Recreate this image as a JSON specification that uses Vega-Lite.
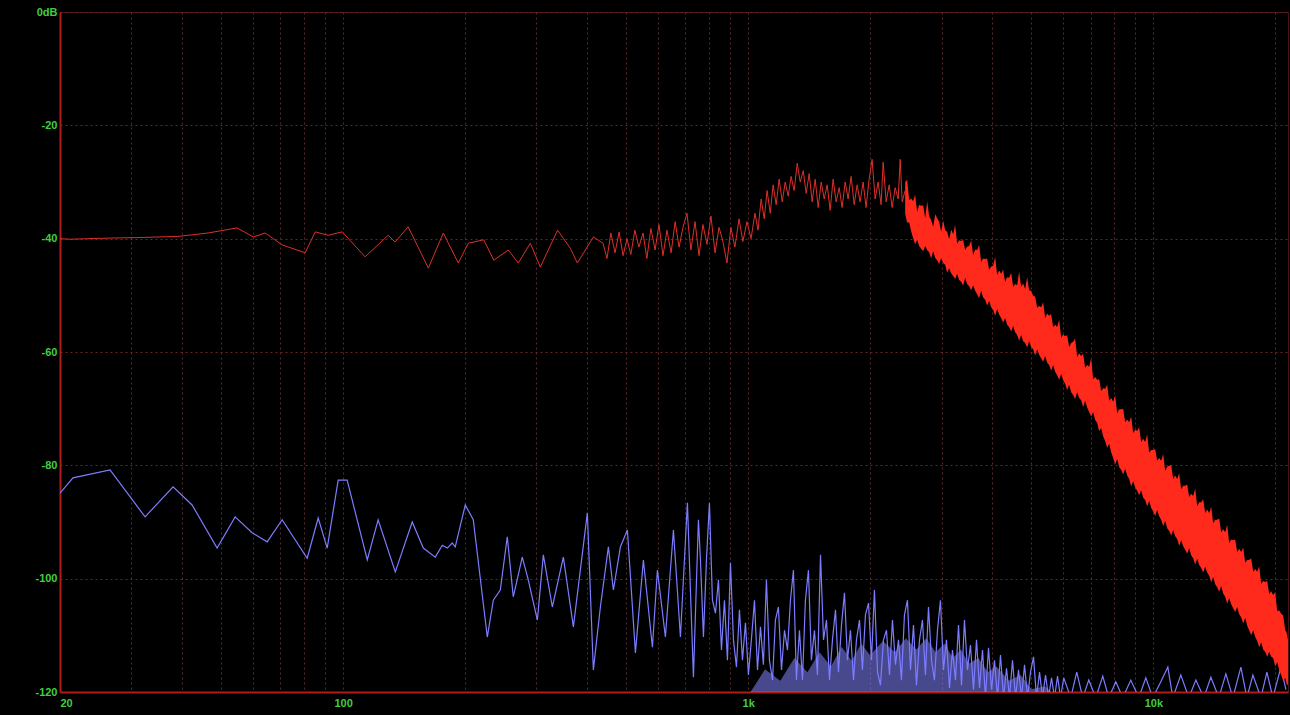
{
  "$schema": "https://vega.github.io/schema/vega-lite/v6.json",
  "width": 1228,
  "height": 680,
  "autosize": {"type": "none"},
  "padding": {"left": 60, "top": 12, "right": 2, "bottom": 23},
  "background": "#000000",
  "config": {
    "view": {"stroke": "#4a1414", "fill": "#000000"}
  },
  "datasets": {
    "blue": [
      {"f":20,"db":-84.9},{"f":21.53,"db":-82.2},{"f":26.58,"db":-80.8},{"f":32.44,"db":-89.1},{"f":38.03,"db":-83.8},{"f":42.38,"db":-87.0},{"f":48.85,"db":-94.6},{"f":54.12,"db":-89.1},{"f":59.61,"db":-91.9},{"f":64.92,"db":-93.5},{"f":70.7,"db":-89.6},{"f":81.51,"db":-96.4},{"f":86.77,"db":-89.3},{"f":91.33,"db":-94.6},{"f":97.22,"db":-82.6},{"f":102.3,"db":-82.6},{"f":114.7,"db":-96.7},{"f":122.0,"db":-89.6},{"f":134.5,"db":-98.8},{"f":148.1,"db":-90.0},{"f":157.7,"db":-94.6},{"f":168.8,"db":-96.2},{"f":175.7,"db":-94.1},{"f":180.8,"db":-94.6},{"f":185.9,"db":-93.7},{"f":189.1,"db":-94.4},{"f":200.2,"db":-87.0},{"f":209.5,"db":-89.6},{"f":226.9,"db":-110.3},{"f":234.8,"db":-103.8},{"f":244.3,"db":-102.0},{"f":254.2,"db":-92.6},{"f":263.0,"db":-103.2},{"f":276.8,"db":-96.2},{"f":286.4,"db":-100.2},{"f":301.6,"db":-107.3},{"f":312.0,"db":-95.8},{"f":328.4,"db":-105.0},{"f":349.6,"db":-96.2},{"f":370.1,"db":-108.5},{"f":400.7,"db":-88.4},{"f":414.6,"db":-116.1},{"f":431.5,"db":-105.0},{"f":451.6,"db":-94.4},{"f":464.6,"db":-102.0},{"f":483.5,"db":-94.4},{"f":503.1,"db":-91.4},{"f":526.6,"db":-113.1},{"f":551.0,"db":-96.7},{"f":580.0,"db":-112.1},{"f":596.7,"db":-98.5},{"f":624.5,"db":-110.3},{"f":653.6,"db":-91.4},{"f":680.1,"db":-110.3},{"f":707.7,"db":-86.6},{"f":732.3,"db":-117.4},{"f":753.4,"db":-89.6},
      {"f":762.1,"db":-96.7},{"f":775.2,"db":-110.3},{"f":788.5,"db":-96.7},{"f":802.1,"db":-86.6},{"f":815.9,"db":-103.8},{"f":830.0,"db":-106.1},{"f":844.2,"db":-100.2},{"f":858.8,"db":-112.6},{"f":873.5,"db":-103.8},{"f":888.5,"db":-114.4},{"f":903.9,"db":-97.2},{"f":919.4,"db":-110.8},{"f":935.2,"db":-115.6},{"f":951.3,"db":-105.5},{"f":967.7,"db":-114.4},{"f":984.4,"db":-107.8},{"f":1001,"db":-117.0},{"f":1018,"db":-110.8},{"f":1036,"db":-103.8},{"f":1054,"db":-116.1},{"f":1072,"db":-108.5},{"f":1090,"db":-115.2},{"f":1109,"db":-100.2},{"f":1128,"db":-114.4},{"f":1148,"db":-117.9},{"f":1167,"db":-107.3},{"f":1187,"db":-105.0},{"f":1208,"db":-116.1},{"f":1229,"db":-109.1},{"f":1250,"db":-112.6},{"f":1271,"db":-103.8},{"f":1293,"db":-98.5},{"f":1315,"db":-117.9},{"f":1338,"db":-109.1},{"f":1361,"db":-117.9},{"f":1384,"db":-103.8},{"f":1408,"db":-98.5},{"f":1432,"db":-114.4},{"f":1457,"db":-109.1},{"f":1482,"db":-117.0},{"f":1508,"db":-95.8},{"f":1534,"db":-110.8},{"f":1560,"db":-107.3},{"f":1587,"db":-117.9},{"f":1614,"db":-110.8},{"f":1642,"db":-105.5},{"f":1670,"db":-116.5},{"f":1699,"db":-108.2},{"f":1728,"db":-102.5},{"f":1758,"db":-114.4},{"f":1788,"db":-109.1},{"f":1819,"db":-117.9},{"f":1850,"db":-110.8},{"f":1882,"db":-107.3},{"f":1914,"db":-116.1},{"f":1947,"db":-106.4},{"f":1981,"db":-104.3},{"f":2015,"db":-114.4},{"f":2049,"db":-102.0},{"f":2085,"db":-116.5},{"f":2120,"db":-118.8},{"f":2157,"db":-110.8},{"f":2194,"db":-109.1},{"f":2232,"db":-117.0},{"f":2270,"db":-107.3},{"f":2309,"db":-115.2},{"f":2349,"db":-110.8},{"f":2389,"db":-117.9},{"f":2430,"db":-106.4},{"f":2472,"db":-103.8},{"f":2515,"db":-116.1},{"f":2558,"db":-108.2},{"f":2602,"db":-118.8},{"f":2647,"db":-110.8},{"f":2692,"db":-107.3},{"f":2738,"db":-117.0},{"f":2786,"db":-105.0},{"f":2834,"db":-114.4},{"f":2882,"db":-117.9},{"f":2932,"db":-109.1},{"f":2982,"db":-103.8},{"f":3034,"db":-116.1},{"f":3086,"db":-110.8},{"f":3139,"db":-119.3},{"f":3193,"db":-112.6},{"f":3248,"db":-117.9},{"f":3304,"db":-108.2},{"f":3361,"db":-118.8},{"f":3418,"db":-107.3},{"f":3477,"db":-116.1},{"f":3537,"db":-111.7},{"f":3598,"db":-119.6},{"f":3660,"db":-110.8},{"f":3723,"db":-119.3},{"f":3787,"db":-112.6},{"f":3852,"db":-121},{"f":3918,"db":-112.2},{"f":3986,"db":-119.6},{"f":4054,"db":-114.4},{"f":4124,"db":-121},{"f":4195,"db":-113.5},{"f":4267,"db":-121},{"f":4341,"db":-115.8},{"f":4415,"db":-121},{"f":4491,"db":-114.4},{"f":4569,"db":-121},{"f":4647,"db":-116.1},{"f":4727,"db":-121},{"f":4809,"db":-115.2},{"f":4891,"db":-121},{"f":4976,"db":-116.5},{"f":5061,"db":-113.8},{"f":5148,"db":-121},{"f":5237,"db":-116.5},{"f":5327,"db":-121},{"f":5419,"db":-117.0},{"f":5512,"db":-121},{"f":5607,"db":-117.5},{"f":5703,"db":-121},{"f":5801,"db":-117.2},{"f":5901,"db":-121},
      {"f":6010,"db":-117.5},{"f":6254,"db":-121},{"f":6471,"db":-116.5},{"f":6695,"db":-121},{"f":6928,"db":-117.9},{"f":7209,"db":-121},{"f":7502,"db":-117.2},{"f":7762,"db":-121},{"f":8079,"db":-118.2},{"f":8406,"db":-121},{"f":8798,"db":-117.9},{"f":9207,"db":-121},{"f":9582,"db":-117.5},{"f":9970,"db":-121},{"f":10435,"db":-118.2},{"f":10859,"db":-115.6},{"f":11172,"db":-121},{"f":11692,"db":-117.0},{"f":12236,"db":-121},{"f":12735,"db":-117.9},{"f":13326,"db":-121},{"f":13868,"db":-117.4},{"f":14513,"db":-121},{"f":15104,"db":-116.8},{"f":15716,"db":-121},{"f":16449,"db":-115.6},{"f":17020,"db":-121},{"f":17610,"db":-117.0},{"f":18430,"db":-121},{"f":19070,"db":-116.5},{"f":19731,"db":-121},{"f":20651,"db":-115.6},{"f":21248,"db":-119.6}
    ],
    "bfill": [
      {"f":1013,"db":-121,"db2":-120},{"f":1100,"db":-121,"db2":-116},{"f":1200,"db":-121,"db2":-118},{"f":1300,"db":-121,"db2":-114},{"f":1400,"db":-121,"db2":-116.5},{"f":1500,"db":-121,"db2":-113},{"f":1600,"db":-121,"db2":-115.5},{"f":1700,"db":-121,"db2":-112},{"f":1800,"db":-121,"db2":-114.5},{"f":1900,"db":-121,"db2":-111.5},{"f":2000,"db":-121,"db2":-113.5},{"f":2150,"db":-121,"db2":-111},{"f":2300,"db":-121,"db2":-113},{"f":2450,"db":-121,"db2":-110.5},{"f":2600,"db":-121,"db2":-112.5},{"f":2750,"db":-121,"db2":-110.5},{"f":2900,"db":-121,"db2":-113},{"f":3050,"db":-121,"db2":-111.5},{"f":3200,"db":-121,"db2":-114},{"f":3350,"db":-121,"db2":-112.5},{"f":3500,"db":-121,"db2":-115},{"f":3700,"db":-121,"db2":-114},{"f":3900,"db":-121,"db2":-116.5},{"f":4100,"db":-121,"db2":-115.5},{"f":4400,"db":-121,"db2":-118},{"f":4700,"db":-121,"db2":-117},{"f":5000,"db":-121,"db2":-119.5},{"f":5400,"db":-121,"db2":-119},{"f":5800,"db":-121,"db2":-121}
    ],
    "red": [
      {"f":20,"db":-40.0},{"f":21.2,"db":-40.1},{"f":23.4,"db":-40.0},{"f":26.6,"db":-39.9},{"f":31.5,"db":-39.8},{"f":39.1,"db":-39.6},{"f":46.4,"db":-39.0},{"f":54.7,"db":-38.1},{"f":60.0,"db":-39.7},{"f":64.2,"db":-39.0},{"f":70.7,"db":-41.1},{"f":80.6,"db":-42.5},{"f":85.3,"db":-38.8},{"f":91.8,"db":-39.4},{"f":99.5,"db":-38.8},{"f":113.3,"db":-43.2},{"f":129.2,"db":-39.4},{"f":134.4,"db":-40.6},{"f":144.7,"db":-37.9},{"f":162.3,"db":-45.2},{"f":176.7,"db":-39.0},{"f":192.4,"db":-44.3},{"f":203.7,"db":-40.8},{"f":222.3,"db":-40.2},{"f":235.5,"db":-43.8},{"f":255.6,"db":-42.0},{"f":270.6,"db":-44.3},{"f":289.8,"db":-40.8},{"f":306.7,"db":-45.0},{"f":338.3,"db":-38.5},{"f":363.8,"db":-41.7},{"f":378.6,"db":-44.3},{"f":414.6,"db":-39.7},{"f":438,"db":-40.8},{"f":448,"db":-43.5},{"f":458,"db":-39.0},{"f":469,"db":-42.5},{"f":480,"db":-38.8},{"f":491,"db":-43.0},{"f":502,"db":-40.0},{"f":513,"db":-42.8},{"f":525,"db":-38.5},{"f":537,"db":-41.5},{"f":550,"db":-39.0},{"f":562,"db":-43.5},{"f":575,"db":-38.2},{"f":589,"db":-42.0},{"f":602,"db":-37.5},{"f":616,"db":-43.0},{"f":630,"db":-38.5},{"f":645,"db":-42.5},{"f":660,"db":-37.0},{"f":675,"db":-41.5},{"f":690,"db":-38.0},{"f":706,"db":-35.5},{"f":722,"db":-42.0},{"f":739,"db":-37.0},{"f":756,"db":-43.0},{"f":773,"db":-37.5},{"f":791,"db":-41.0},{"f":809,"db":-36.0},{"f":828,"db":-42.5},{"f":847,"db":-38.0},{"f":866,"db":-40.5},{"f":886,"db":-44.3},{"f":906,"db":-38.0},{"f":927,"db":-41.5},{"f":949,"db":-36.5},{"f":970,"db":-40.5},{"f":993,"db":-37.0},{"f":1016,"db":-40.0},{"f":1039,"db":-35.5},{"f":1057,"db":-38.5},{"f":1076,"db":-33.0},{"f":1095,"db":-36.5},{"f":1113,"db":-31.5},{"f":1133,"db":-35.5},{"f":1152,"db":-30.5},{"f":1172,"db":-34.0},{"f":1192,"db":-29.5},{"f":1213,"db":-33.5},{"f":1234,"db":-30.0},{"f":1255,"db":-32.5},{"f":1276,"db":-29.0},{"f":1298,"db":-31.5},{"f":1321,"db":-26.7},{"f":1344,"db":-30.0},{"f":1367,"db":-28.0},{"f":1390,"db":-32.0},{"f":1414,"db":-28.5},{"f":1438,"db":-33.5},{"f":1463,"db":-29.5},{"f":1488,"db":-34.5},{"f":1514,"db":-30.0},{"f":1540,"db":-33.0},{"f":1566,"db":-30.5},{"f":1593,"db":-35.0},{"f":1620,"db":-29.5},{"f":1648,"db":-33.5},{"f":1677,"db":-31.0},{"f":1705,"db":-34.5},{"f":1735,"db":-30.0},{"f":1764,"db":-33.0},{"f":1795,"db":-29.0},{"f":1826,"db":-34.0},{"f":1857,"db":-30.5},{"f":1889,"db":-33.5},{"f":1921,"db":-30.0},{"f":1954,"db":-34.5},{"f":1988,"db":-29.5},{"f":2022,"db":-26.0},{"f":2057,"db":-33.0},{"f":2092,"db":-30.0},{"f":2128,"db":-34.0},{"f":2153,"db":-26.5},{"f":2190,"db":-33.5},{"f":2228,"db":-30.5},{"f":2266,"db":-34.5},{"f":2305,"db":-31.0},{"f":2345,"db":-33.0},{"f":2372,"db":-26.0},{"f":2399,"db":-33.5},{"f":2440,"db":-31.5}
    ],
    "band": [
      {"f":2440,"db":-35.6,"db2":-30.0},{"f":2468,"db":-37.2,"db2":-29.6},{"f":2496,"db":-37.1,"db2":-33.2},{"f":2524,"db":-38.7,"db2":-32.9},{"f":2553,"db":-39.9,"db2":-33.4},{"f":2582,"db":-41.0,"db2":-32.2},{"f":2612,"db":-40.2,"db2":-35.3},{"f":2642,"db":-41.3,"db2":-34.0},{"f":2672,"db":-41.8,"db2":-34.2},{"f":2703,"db":-42.2,"db2":-34.1},{"f":2734,"db":-41.3,"db2":-36.4},{"f":2765,"db":-42.0,"db2":-33.4},{"f":2796,"db":-42.4,"db2":-36.0},{"f":2828,"db":-43.5,"db2":-36.7},{"f":2861,"db":-42.2,"db2":-37.9},{"f":2894,"db":-43.4,"db2":-35.7},{"f":2927,"db":-43.8,"db2":-36.4},{"f":2960,"db":-44.5,"db2":-37.0},{"f":2994,"db":-43.4,"db2":-38.8},{"f":3028,"db":-44.3,"db2":-36.8},{"f":3063,"db":-44.6,"db2":-38.5},{"f":3098,"db":-46.0,"db2":-38.8},{"f":3133,"db":-45.2,"db2":-40.1},{"f":3169,"db":-46.1,"db2":-38.4},{"f":3205,"db":-46.6,"db2":-39.2},{"f":3242,"db":-47.1,"db2":-37.6},{"f":3279,"db":-46.2,"db2":-40.9},{"f":3316,"db":-47.3,"db2":-40.3},{"f":3354,"db":-47.6,"db2":-40.4},{"f":3392,"db":-48.3,"db2":-40.2},{"f":3431,"db":-46.9,"db2":-42.0},{"f":3470,"db":-48.0,"db2":-41.4},{"f":3510,"db":-48.4,"db2":-41.3},{"f":3550,"db":-49.1,"db2":-40.3},{"f":3591,"db":-48.2,"db2":-42.9},{"f":3632,"db":-49.2,"db2":-41.9},{"f":3673,"db":-49.8,"db2":-42.0},{"f":3715,"db":-50.5,"db2":-41.1},{"f":3758,"db":-49.2,"db2":-44.1},{"f":3801,"db":-50.4,"db2":-43.5},{"f":3844,"db":-50.8,"db2":-43.6},{"f":3888,"db":-51.8,"db2":-43.5},{"f":3933,"db":-51.0,"db2":-45.5},{"f":3978,"db":-52.1,"db2":-44.9},{"f":4023,"db":-52.6,"db2":-44.8},{"f":4069,"db":-53.6,"db2":-43.2},{"f":4116,"db":-52.4,"db2":-46.4},{"f":4163,"db":-53.4,"db2":-45.6},{"f":4210,"db":-54.0,"db2":-46.2},{"f":4258,"db":-54.8,"db2":-45.5},{"f":4307,"db":-54.0,"db2":-47.6},{"f":4356,"db":-55.2,"db2":-46.8},{"f":4406,"db":-55.6,"db2":-46.9},{"f":4457,"db":-56.4,"db2":-46.0},{"f":4508,"db":-55.4,"db2":-48.5},{"f":4559,"db":-56.5,"db2":-48.0},{"f":4611,"db":-57.0,"db2":-48.2},{"f":4664,"db":-58.0,"db2":-45.8},{"f":4717,"db":-57.0,"db2":-48.5},{"f":4771,"db":-58.1,"db2":-47.9},{"f":4826,"db":-58.4,"db2":-48.9},{"f":4881,"db":-59.2,"db2":-46.8},{"f":4937,"db":-58.1,"db2":-49.1},{"f":4993,"db":-59.1,"db2":-49.2},{"f":5050,"db":-59.5,"db2":-50.1},{"f":5108,"db":-60.6,"db2":-50.2},{"f":5166,"db":-59.5,"db2":-52.2},{"f":5225,"db":-60.5,"db2":-51.9},{"f":5285,"db":-61.1,"db2":-52.1},{"f":5346,"db":-61.7,"db2":-51.2},{"f":5407,"db":-60.7,"db2":-54.0},{"f":5469,"db":-61.9,"db2":-53.2},{"f":5531,"db":-62.3,"db2":-53.6},{"f":5594,"db":-63.3,"db2":-53.3},{"f":5658,"db":-62.3,"db2":-55.6},{"f":5723,"db":-63.5,"db2":-55.2},{"f":5788,"db":-64.1,"db2":-55.6},{"f":5855,"db":-64.9,"db2":-54.3},{"f":5922,"db":-63.9,"db2":-57.5},{"f":5990,"db":-65.0,"db2":-56.9},{"f":6058,"db":-65.6,"db2":-57.2},{"f":6127,"db":-66.7,"db2":-57.0},{"f":6197,"db":-65.8,"db2":-59.1},{"f":6268,"db":-67.1,"db2":-58.4},{"f":6340,"db":-67.6,"db2":-58.2},{"f":6412,"db":-68.3,"db2":-57.6},{"f":6485,"db":-67.1,"db2":-60.9},{"f":6560,"db":-68.1,"db2":-60.2},{"f":6635,"db":-68.5,"db2":-60.7},{"f":6711,"db":-69.7,"db2":-60.3},{"f":6787,"db":-68.6,"db2":-62.8},{"f":6865,"db":-69.8,"db2":-62.3},{"f":6943,"db":-70.6,"db2":-62.6},{"f":7023,"db":-71.4,"db2":-61.1},{"f":7103,"db":-70.6,"db2":-64.8},{"f":7185,"db":-72.0,"db2":-64.4},{"f":7267,"db":-72.5,"db2":-64.9},{"f":7350,"db":-74.0,"db2":-64.8},{"f":7434,"db":-73.4,"db2":-66.9},{"f":7519,"db":-74.9,"db2":-66.4},{"f":7605,"db":-75.7,"db2":-66.5},{"f":7692,"db":-76.9,"db2":-65.8},{"f":7780,"db":-76.2,"db2":-68.6},{"f":7869,"db":-77.7,"db2":-68.1},{"f":7959,"db":-78.7,"db2":-68.8},{"f":8050,"db":-79.8,"db2":-67.6},{"f":8142,"db":-78.9,"db2":-70.8},{"f":8235,"db":-80.3,"db2":-70.1},{"f":8329,"db":-80.8,"db2":-70.1},{"f":8425,"db":-81.6,"db2":-70.0},{"f":8521,"db":-80.6,"db2":-72.4},{"f":8619,"db":-81.8,"db2":-71.9},{"f":8717,"db":-82.4,"db2":-72.4},{"f":8817,"db":-83.7,"db2":-71.4},{"f":8917,"db":-82.8,"db2":-74.3},{"f":9019,"db":-83.9,"db2":-73.7},{"f":9122,"db":-84.5,"db2":-73.9},{"f":9227,"db":-85.3,"db2":-73.3},{"f":9332,"db":-84.4,"db2":-75.9},{"f":9439,"db":-85.7,"db2":-75.3},{"f":9547,"db":-86.1,"db2":-75.9},{"f":9656,"db":-87.2,"db2":-74.5},{"f":9767,"db":-86.3,"db2":-77.8},{"f":9878,"db":-87.5,"db2":-77.3},{"f":9991,"db":-88.1,"db2":-77.3},{"f":10106,"db":-88.9,"db2":-77.1},{"f":10221,"db":-87.9,"db2":-79.2},{"f":10338,"db":-89.0,"db2":-78.7},{"f":10456,"db":-89.6,"db2":-79.2},{"f":10576,"db":-90.7,"db2":-78.0},{"f":10697,"db":-89.8,"db2":-81.0},{"f":10819,"db":-91.1,"db2":-80.2},{"f":10943,"db":-91.6,"db2":-80.1},{"f":11068,"db":-92.4,"db2":-79.9},{"f":11194,"db":-91.4,"db2":-82.4},{"f":11322,"db":-92.5,"db2":-81.8},{"f":11452,"db":-93.0,"db2":-82.4},{"f":11583,"db":-94.2,"db2":-81.4},{"f":11715,"db":-93.2,"db2":-84.2},{"f":11849,"db":-94.3,"db2":-83.6},{"f":11985,"db":-94.9,"db2":-83.6},{"f":12122,"db":-95.6,"db2":-83.4},{"f":12260,"db":-94.6,"db2":-85.6},{"f":12400,"db":-95.9,"db2":-85.0},{"f":12542,"db":-96.4,"db2":-85.4},{"f":12686,"db":-97.5,"db2":-84.1},{"f":12831,"db":-96.5,"db2":-87.2},{"f":12978,"db":-97.6,"db2":-86.5},{"f":13126,"db":-98.1,"db2":-86.5},{"f":13276,"db":-98.9,"db2":-86.0},{"f":13428,"db":-97.9,"db2":-88.4},{"f":13582,"db":-98.9,"db2":-87.8},{"f":13737,"db":-99.5,"db2":-88.4},{"f":13894,"db":-100.6,"db2":-87.3},{"f":14053,"db":-99.7,"db2":-90.2},{"f":14214,"db":-101.0,"db2":-89.6},{"f":14376,"db":-101.5,"db2":-89.6},{"f":14541,"db":-102.3,"db2":-89.4},{"f":14707,"db":-101.3,"db2":-91.8},{"f":14875,"db":-102.6,"db2":-91.3},{"f":15045,"db":-103.2,"db2":-91.8},{"f":15218,"db":-104.4,"db2":-90.5},{"f":15391,"db":-103.4,"db2":-93.7},{"f":15567,"db":-104.5,"db2":-93.1},{"f":15745,"db":-105.2,"db2":-93.2},{"f":15925,"db":-105.9,"db2":-93.1},{"f":16107,"db":-105.0,"db2":-95.3},{"f":16291,"db":-106.3,"db2":-94.7},{"f":16478,"db":-106.8,"db2":-95.3},{"f":16666,"db":-107.9,"db2":-94.5},{"f":16857,"db":-106.9,"db2":-97.2},{"f":17049,"db":-108.3,"db2":-96.7},{"f":17244,"db":-109.1,"db2":-96.7},{"f":17441,"db":-110.0,"db2":-96.4},{"f":17641,"db":-109.1,"db2":-98.8},{"f":17843,"db":-110.3,"db2":-98.3},{"f":18047,"db":-111.0,"db2":-98.8},{"f":18253,"db":-112.1,"db2":-97.8},{"f":18462,"db":-111.2,"db2":-100.9},{"f":18673,"db":-112.5,"db2":-100.4},{"f":18886,"db":-112.9,"db2":-100.6},{"f":19102,"db":-113.8,"db2":-100.4},{"f":19321,"db":-112.9,"db2":-102.7},{"f":19542,"db":-113.8,"db2":-102.2},{"f":19765,"db":-114.0,"db2":-102.9},{"f":19991,"db":-115.5,"db2":-102.4},{"f":20220,"db":-114.7,"db2":-105.7},{"f":20451,"db":-116.1,"db2":-105.6},{"f":20685,"db":-117.0,"db2":-106.2},{"f":20922,"db":-118.1,"db2":-106.5},{"f":21161,"db":-117.5,"db2":-109.1},{"f":21330,"db":-118.6,"db2":-109.5},{"f":21500,"db":-118.8,"db2":-110.8}
    ]
  },
  "encoding": {
    "x": {
      "field": "f",
      "type": "quantitative",
      "scale": {"type": "log", "domain": [20, 21500], "nice": false},
      "axis": {
        "title": null,
        "values": [20,30,40,50,60,70,80,90,100,200,300,400,500,600,700,800,900,1000,2000,3000,4000,5000,6000,7000,8000,9000,10000,20000],
        "labelExpr": "datum.value == 20 ? '20' : datum.value == 100 ? '100' : datum.value == 1000 ? '1k' : datum.value == 10000 ? '10k' : ''",
        "labelOverlap": false,
        "labelFlush": true,
        "labelColor": "#3fcf3f",
        "labelFont": "Liberation Sans",
        "labelFontSize": 11,
        "labelFontWeight": "bold",
        "labelPadding": 5,
        "ticks": false,
        "grid": true,
        "gridColor": "#5a2a2a",
        "gridDash": [2, 3],
        "gridWidth": 1,
        "domainColor": "#b01c1c",
        "domainWidth": 2
      }
    },
    "y": {
      "field": "db",
      "type": "quantitative",
      "scale": {"domain": [-120, 0], "nice": false, "zero": false},
      "axis": {
        "title": null,
        "values": [-120,-100,-80,-60,-40,-20,0],
        "labelExpr": "datum.value == 0 ? '0dB' : '' + datum.value",
        "labelColor": "#3fcf3f",
        "labelFont": "Liberation Sans",
        "labelFontSize": 11,
        "labelFontWeight": "bold",
        "labelPadding": 3,
        "ticks": false,
        "grid": true,
        "gridColor": "#6a2424",
        "gridDash": [2, 3],
        "gridWidth": 1,
        "domainColor": "#b01c1c",
        "domainWidth": 2
      }
    }
  },
  "layer": [
    {
      "data": {"name": "bfill"},
      "mark": {"type": "area", "color": "#8484ff", "opacity": 0.55, "clip": true},
      "encoding": {"y2": {"field": "db2"}}
    },
    {
      "data": {"name": "blue"},
      "mark": {"type": "line", "color": "#7c7cff", "strokeWidth": 1.2, "clip": true}
    },
    {
      "data": {"name": "red"},
      "mark": {"type": "line", "color": "#dc302c", "strokeWidth": 1, "clip": true}
    },
    {
      "data": {"name": "band"},
      "mark": {"type": "area", "color": "#ff2a1c", "opacity": 1, "clip": true},
      "encoding": {"y2": {"field": "db2"}}
    }
  ]
}
